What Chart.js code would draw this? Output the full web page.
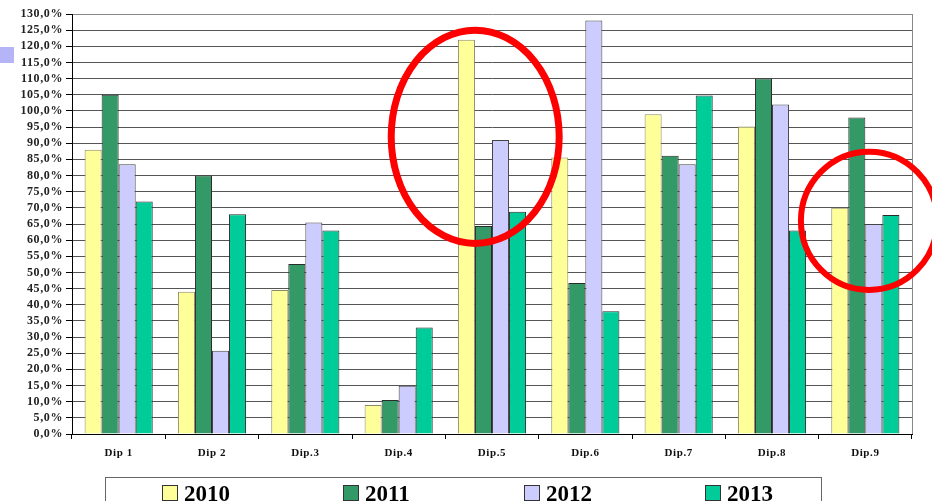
<!DOCTYPE html>
<html>
<head>
<meta charset="utf-8">
<script src="https://cdn.jsdelivr.net/npm/chart.js@4"></script>
<style>
  html, body { margin: 0; padding: 0; background: #fff; overflow: hidden; }
  #wrap { position: relative; width: 932px; height: 501px; }
  #mark { position: absolute; left: 0; top: 47px; width: 14px; height: 16px; background: #b4b4f6; }
  #legend {
    position: absolute; left: 105px; top: 477px; width: 717px; height: 40px;
    border: 1px solid #666; box-sizing: border-box;
    font-family: "Liberation Serif", serif; font-weight: bold; font-size: 23px; color: #000;
  }
  #legend span.item { position: absolute; top: 4px; line-height: 24px; }
  #legend span.box { display: inline-block; width: 14px; height: 14px; border: 1px solid #333; margin-right: 6px; vertical-align: 0px; }
</style>
</head>
<body>
<div id="wrap">
  <canvas id="barChart" width="932" height="501"></canvas>
  <div id="mark"></div>
  <div id="legend"></div>
</div>
<script>
//========== barChart ==========//

// data
const categories = ['Dip 1', 'Dip 2', 'Dip.3', 'Dip.4', 'Dip.5', 'Dip.6', 'Dip.7', 'Dip.8', 'Dip.9'];
const years = ['2010', '2011', '2012', '2013'];
const v2010 = [88, 44, 44.6, 9, 122, 85.6, 99, 95.2, 70];
const v2011 = [105, 80, 52.6, 10.5, 64.4, 46.7, 86.1, 110, 98];
const v2012 = [83.5, 25.8, 65.5, 14.9, 91, 128, 83.5, 102, 65];
const v2013 = [72, 68, 63, 33, 68.8, 38, 104.8, 63, 67.8];

const fills = ['#ffff99', '#339966', '#ccccff', '#00cc99'];
const borders = ['#8a8a6a', '#2b2b2b', '#444444', '#2b2b2b'];

const databar = {
    labels: categories,
    datasets: [v2010, v2011, v2012, v2013].map((vals, i) => ({
        label: years[i],
        data: vals,
        backgroundColor: fills[i],
        borderColor: borders[i],
        borderWidth: 1,
        categoryPercentage: 0.73,
        barPercentage: 1
    }))
};

// red circles drawn over the chart, placed through the scales
const circles = [
    { cat: 3.82, val: 92, rx: 0.9, ry: 33, w: 7 },
    { cat: 8.04, val: 66, rx: 0.73, ry: 21.4, w: 6 }
];

const overlay = {
    id: 'overlay',
    beforeDraw(chart) {
        // the axis labels are spaced out a bit in the original
        chart.ctx.letterSpacing = '0.6px';
    },
    beforeDatasetsDraw(chart) {
        chart.ctx.letterSpacing = '0px';
    },
    afterDraw(chart) {
        const ctx = chart.ctx;
        const x = chart.scales.x, y = chart.scales.y;
        const a = chart.chartArea;
        const catW = (a.right - a.left) / categories.length;
        ctx.save();
        ctx.strokeStyle = '#888';
        ctx.lineWidth = 1;
        ctx.beginPath();
        ctx.moveTo(a.right + 0.5, a.top);
        ctx.lineTo(a.right + 0.5, a.bottom);
        ctx.stroke();
        ctx.strokeStyle = '#ff0000';
        circles.forEach(c => {
            const cx = x.getPixelForValue(Math.floor(c.cat)) + (c.cat - Math.floor(c.cat)) * catW;
            const cy = y.getPixelForValue(c.val);
            const ry = Math.abs(y.getPixelForValue(c.val + c.ry) - cy);
            ctx.lineWidth = c.w;
            ctx.beginPath();
            ctx.ellipse(cx, cy, c.rx * catW, ry, 0, 0, Math.PI * 2);
            ctx.stroke();
        });
        ctx.restore();
    }
};

// config
const configbar = {
    type: 'bar',
    data: databar,
    options: {
        responsive: false,
        animation: false,
        layout: { padding: { top: 14, right: 20, bottom: 37, left: 0 } },
        plugins: {
            legend: { display: false },
            tooltip: { enabled: false }
        },
        scales: {
            x: {
                afterFit: s => { s.height = 30; },
                grid: { offset: true, drawOnChartArea: false, tickLength: 5, color: '#000' },
                border: { color: '#000' },
                ticks: {
                    padding: 8,
                    color: '#111',
                    font: { family: 'Liberation Serif', weight: 'bold', size: 11 }
                }
            },
            y: {
                min: 0,
                max: 130,
                afterFit: s => { s.width = 72; },
                grid: {
                    color: ctx => ctx.tick && ctx.tick.value === 130 ? '#888' : '#555',
                    tickColor: '#000',
                    tickLength: 6
                },
                border: { color: '#000' },
                ticks: {
                    stepSize: 5,
                    autoSkip: false,
                    padding: 3,
                    color: '#222',
                    font: { family: 'Liberation Serif', weight: 'bold', size: 12 },
                    callback: v => v.toFixed(1).replace('.', ',') + '%'
                }
            }
        }
    },
    plugins: [overlay]
};

// render
const barChart = new Chart(document.getElementById('barChart'), configbar);

// legend
const legend = document.getElementById('legend');
years.forEach((yr, i) => {
    const it = document.createElement('span');
    it.className = 'item';
    it.style.left = (56 + i * 181) + 'px';
    it.innerHTML = '<span class="box" style="background:' + fills[i] + '"></span>' + yr;
    legend.appendChild(it);
});
</script>
</body>
</html>
